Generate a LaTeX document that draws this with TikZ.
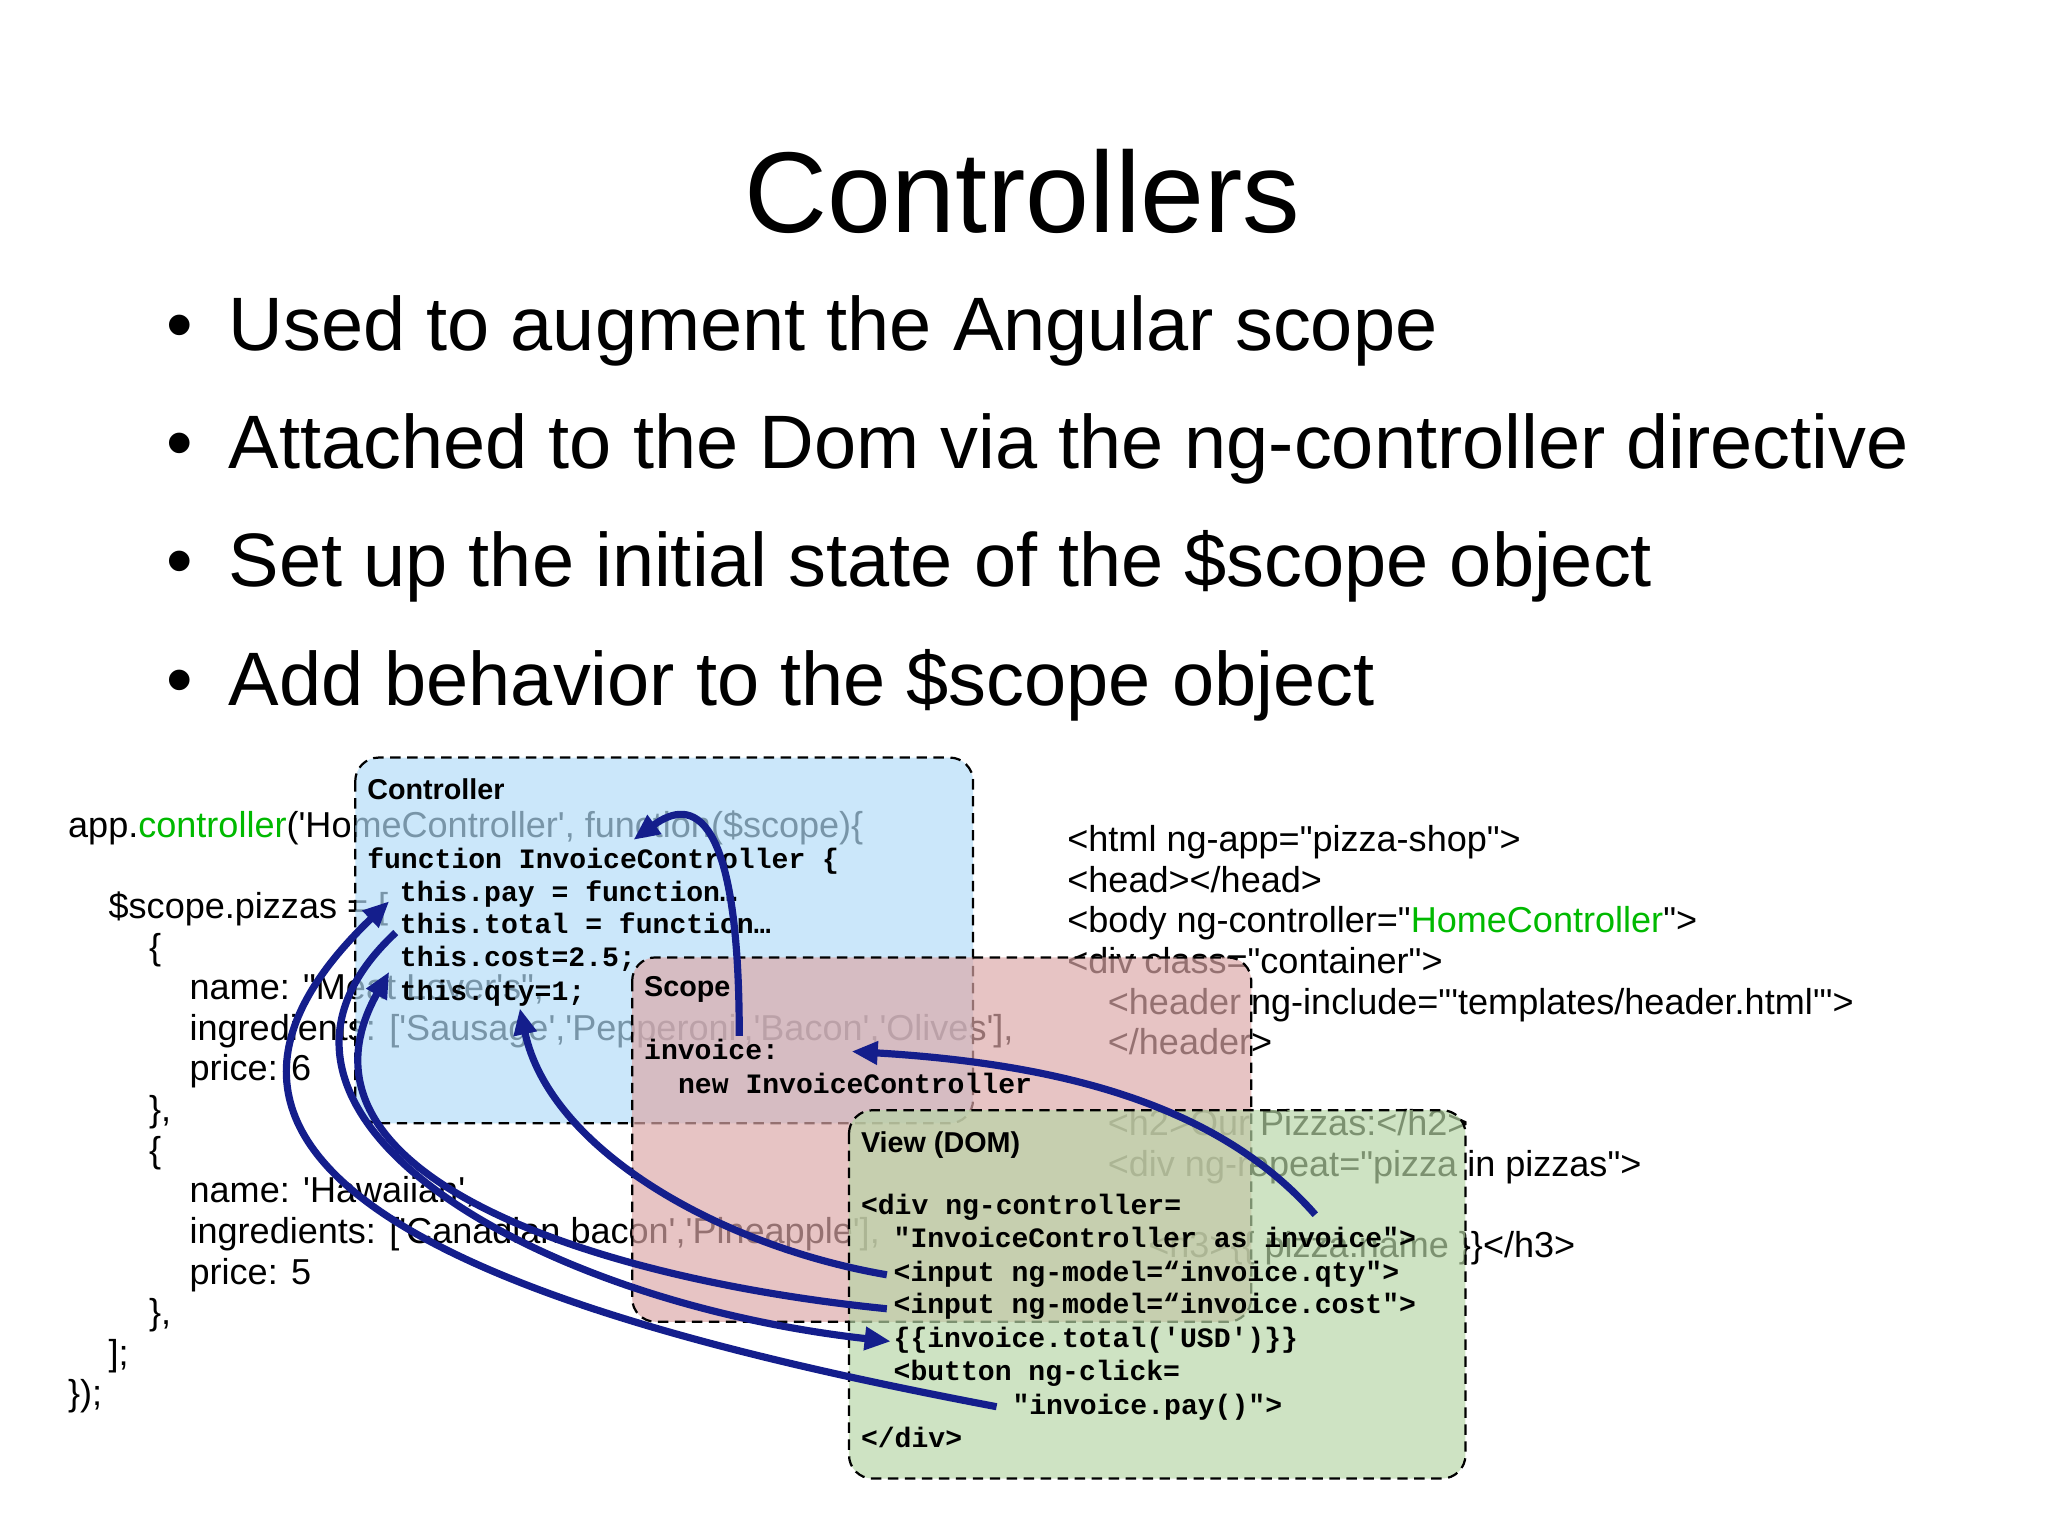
\documentclass[tikz,border=0pt]{standalone}
\usepackage{fontspec}
\newfontfamily\slidefont{Liberation Sans}
\newfontfamily\codefont{Liberation Mono}
\usetikzlibrary{arrows.meta}
\definecolor{jsgreen}{RGB}{0,185,0}
\definecolor{bindblue}{RGB}{20,30,140}
\definecolor{ctrlfill}{RGB}{178,220,248}
\definecolor{scopefill}{RGB}{220,168,168}
\definecolor{viewfill}{RGB}{183,214,166}
\tikzset{panel/.style={draw=black,line width=1.7pt,dash pattern=on 8pt off 5pt,
  rounded corners=18pt,fill opacity=.68},
 pointtext/.style={anchor=base west,inner sep=0pt,font=\slidefont\fontsize{58}{66}\selectfont},
 srcline/.style={anchor=base west,inner sep=0pt,font=\slidefont\fontsize{27.6}{31}\selectfont},
 codeline/.style={anchor=base west,inner sep=0pt,font=\codefont\bfseries\fontsize{21.5}{25}\selectfont},
 boxlabel/.style={anchor=base west,inner sep=0pt,font=\slidefont\bfseries\fontsize{22}{26}\selectfont},
 binding/.style={bindblue,line width=5.5pt},
 bindarrow/.style={binding,-{Triangle[length=20pt,width=17pt]}}}

\begin{document}
\begin{tikzpicture}[x=1pt,y=-1pt]
\useasboundingbox (0,0) rectangle (1568,1175);
% title and bullet points
\node[anchor=base,inner sep=0pt,font=\slidefont\fontsize{88}{100}\selectfont] (title) at (783,178) {Controllers};
\foreach \b/\txt in {1/{Used to augment the Angular scope},
 2/{Attached to the Dom via the ng-controller directive},
 3/{Set up the initial state of the \$scope object},
 4/{Add behavior to the \$scope object}} {
 \node[pointtext] (dot\b) at (127,{268+90.7*(\b-1)}) {•};
 \node[pointtext] (point\b) at (175,{268+90.7*(\b-1)}) {\txt};
}
% source behind the panels
\foreach \k/\lvl/\txt in {0/0/{app.\textcolor{jsgreen}{controller}('HomeController', function(\$scope)\{},
 2/1/{\$scope.pizzas = [},3/2/{\{},4/3/{name: "Meat Lover's",},
 5/3/{ingredients: ['Sausage','Pepperoni','Bacon','Olives'],},6/3/{price: 6},
 7/2/{\},},8/2/{\{},9/3/{name: 'Hawaiian',},
 10/3/{ingredients: ['Canadian bacon','Pineapple'],},11/3/{price: 5},
 12/2/{\},},13/1/{];},14/0/{\});}}
 \node[srcline] (js\k) at ({52+31*\lvl},{641+31.1*\k}) {\txt};
\foreach \k/\lvl/\txt in {0/0/{<html ng-app="pizza-shop">},1/0/{<head></head>},
 2/0/{<body ng-controller="\textcolor{jsgreen}{HomeController}">},
 3/0/{<div class="container">},
 4/1/{<header ng-include="'templates/header.html'">},5/1/{</header>},
 7/1/{<h2>Our Pizzas:</h2>},8/1/{<div ng-repeat="pizza in pizzas">},
 10/2/{<h3>\{\{ pizza.name \}\}</h3>}}
 \node[srcline] (html\k) at ({817+31*\lvl},{652+31.1*\k}) {\txt};
% controller
\path[panel,fill=ctrlfill] (272,580) rectangle (745,860);
\node[boxlabel] (clabel) at (281,612) {Controller};
\node[codeline] (cfun) at (281,665) {function InvoiceController \{};
\node[codeline] (cpay) at (306,690) {this.pay = function…};
\node[codeline] (ctotal) at (306,715) {this.total = function…};
\node[codeline] (ccost) at (306,740) {this.cost=2.5;};
\node[codeline] (cqty) at (306,766) {this.qty=1;};
% scope
\path[panel,fill=scopefill] (484,733) rectangle (958,1012);
\node[boxlabel] (slabel) at (493,763) {Scope};
\node[codeline] (sinv) at (493,811) {invoice:};
\node[codeline] (snew) at (519,837) {new InvoiceController};
% view
\path[panel,fill=viewfill] (650,850) rectangle (1122,1132);
\node[boxlabel] (vlabel) at (659,882) {View (DOM)};
\node[codeline] (vdiv) at (659,930) {<div ng-controller=};
\node[codeline] (vas) at (684,955) {"InvoiceController as invoice">};
\node[codeline] (vqty) at (684,981) {<input ng-model=“invoice.qty">};
\node[codeline] (vcost) at (684,1006) {<input ng-model=“invoice.cost">};
\node[codeline] (vtotal) at (684,1032) {\{\{invoice.total('USD')\}\}};
\node[codeline] (vbtn) at (684,1057) {<button ng-click=};
\node[codeline] (vpay) at (775,1083) {"invoice.pay()">};
\node[codeline] (vend) at (659,1108) {</div>};
% bindings
\draw[bindarrow] ([xshift=73pt,yshift=18pt]sinv.base west) .. controls +(0,-173) and +(45,-33) .. ([xshift=204pt,yshift=22pt]cfun.base west);
\draw[bindarrow] ([xshift=323pt,yshift=25pt]vas.base west) .. controls +(-70,-80) and +(170,10) .. ([xshift=159pt,yshift=6pt]sinv.base west);
\draw[bindarrow] ([xshift=-5pt,yshift=5pt]vqty.base west) .. controls +(-128,-22) and +(23,108) .. ([xshift=92pt,yshift=-6pt]cqty.base west);
\draw[bindarrow] ([xshift=-5pt,yshift=4pt]vcost.base west) .. controls +(-220,-22) and +(-88,157) .. ([xshift=-8pt,yshift=-4pt]ccost.base west);
\draw[bindarrow] ([xshift=-3pt,yshift=1pt]ctotal.base west) .. controls +(-146,136) and +(-277,-31) .. ([xshift=-2pt,yshift=5pt]vtotal.base west);
\draw[bindarrow] ([xshift=-12pt,yshift=6pt]vpay.base west) .. controls +(-300,-57) and +(-238,228) .. ([xshift=-8pt]cpay.base west);
\end{tikzpicture}
\end{document}
